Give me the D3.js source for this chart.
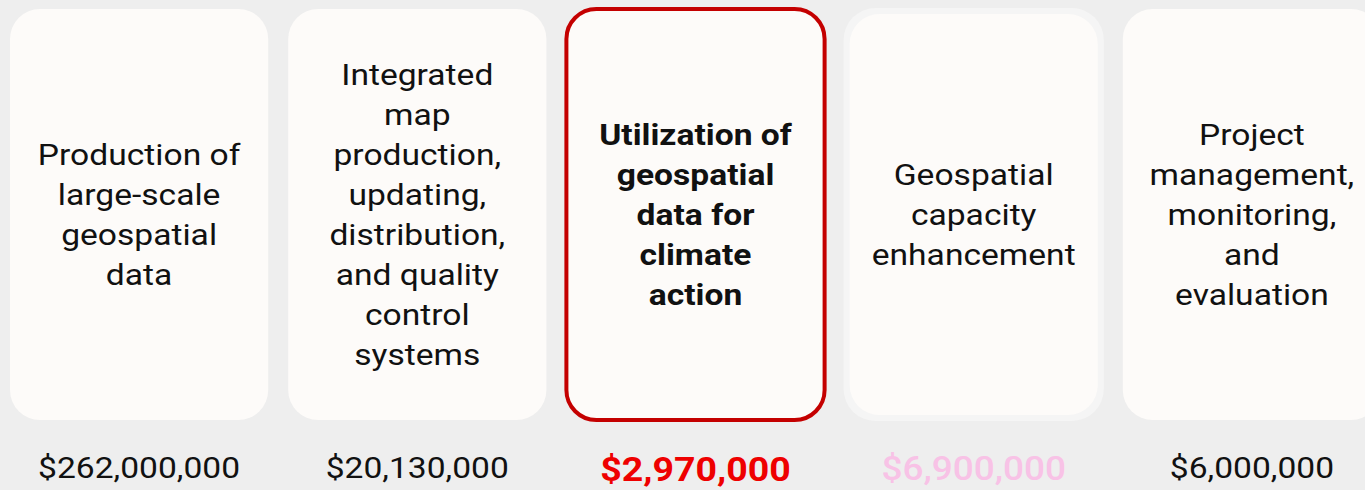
<!DOCTYPE html>
<html>
<head>
<meta charset="utf-8">
<script src="https://cdn.jsdelivr.net/npm/d3@7"></script>
<style>
  html, body { margin: 0; padding: 0; background: #eeeeee; }
  svg { display: block; font-family: Roboto, "Noto Sans", sans-serif; }
</style>
</head>
<body>
<svg id="chart" width="1365" height="490"></svg>
<script>
const categories = [
  ["Production of", "large-scale", "geospatial", "data"],
  ["Integrated", "map", "production,", "updating,", "distribution,", "and quality", "control", "systems"],
  ["Utilization of", "geospatial", "data for", "climate", "action"],
  ["Geospatial", "capacity", "enhancement"],
  ["Project", "management,", "monitoring,", "and", "evaluation"]
];
const values = [262000000, 20130000, 2970000, 6900000, 6000000];
const highlight = [false, false, true, false, false];
const faded = [false, false, false, true, false];

const svg = d3.select("#chart");
const W = 1365, H = 490;
const SX = 1.12; // horizontal stretch of the type in the reference

svg.append("rect").attr("width", W).attr("height", H).attr("fill", "#eeeeee");

const x = d3.scaleBand()
  .domain(d3.range(categories.length))
  .range([10, 1381])
  .paddingInner(0.0719)
  .paddingOuter(0);

const cardTop = 9, cardH = 411, lineH = 40, textCenter = 215;
const fmt = d3.format("$,");

const g = svg.selectAll("g.card")
  .data(categories.map((lines, i) => ({lines, v: values[i], hl: highlight[i], fd: faded[i], i})))
  .join("g").attr("class", "card");

// halo for faded card
g.filter(d => d.fd).append("rect")
  .attr("x", d => x(d.i) - 1)
  .attr("y", cardTop - 1)
  .attr("width", x.bandwidth() + 2)
  .attr("height", cardH + 2)
  .attr("rx", 32)
  .attr("fill", "#f5f5f5");

g.append("rect")
  .attr("x", d => d.fd ? x(d.i) + 5 : x(d.i))
  .attr("y", d => d.fd ? cardTop + 5 : cardTop)
  .attr("width", d => d.fd ? x.bandwidth() - 10 : x.bandwidth())
  .attr("height", d => d.fd ? cardH - 10 : cardH)
  .attr("rx", 30)
  .attr("fill", "#fdfbf9")
  .attr("stroke", d => d.hl ? "#c40000" : "none")
  .attr("stroke-width", d => d.hl ? 4 : 0);

g.append("text")
  .attr("transform", d => `translate(${x(d.i) + x.bandwidth() / 2},0) scale(${SX},1)`)
  .attr("text-anchor", "middle")
  .attr("font-size", 30)
  .attr("font-weight", d => d.hl ? 700 : 400)
  .attr("fill", "#111111")
  .selectAll("tspan")
  .data(d => d.lines.map((t, k) => ({t, k, n: d.lines.length})))
  .join("tspan")
  .attr("x", 0)
  .attr("y", d => textCenter + (d.k - (d.n - 1) / 2) * lineH + 10)
  .text(d => d.t);

g.append("text")
  .attr("transform", d => `translate(${x(d.i) + x.bandwidth() / 2},${d.hl ? 481 : (d.fd ? 480 : 478)}) scale(${SX},1)`)
  .attr("text-anchor", "middle")
  .attr("font-size", d => d.hl ? 33.5 : (d.fd ? 33 : 30))
  .attr("font-weight", d => d.hl ? 700 : (d.fd ? 500 : 400))
  .attr("fill", d => d.hl ? "#ee0000" : (d.fd ? "#f8c2e6" : "#111111"))
  .text(d => fmt(d.v));
</script>
</body>
</html>
